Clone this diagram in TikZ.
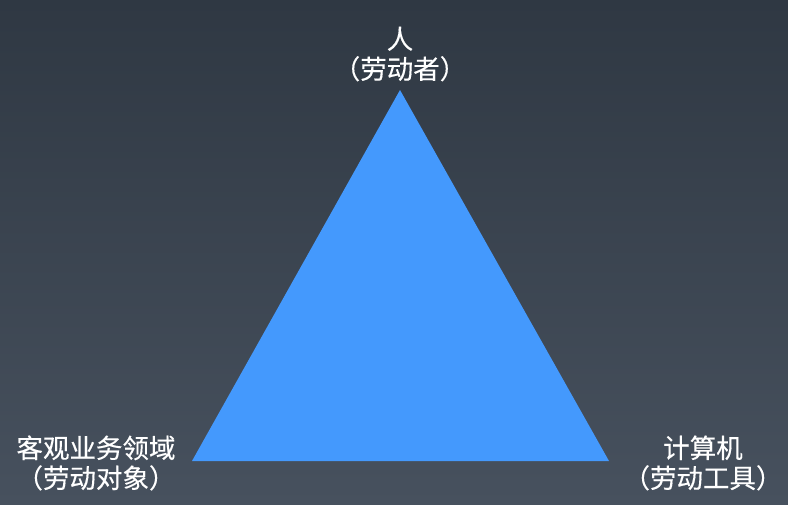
\documentclass[tikz,border=0pt]{standalone}
\usepackage{fontspec}
\newfontfamily\cjk{Noto Sans CJK SC}[FakeBold=0.3]
\definecolor{bgtop}{HTML}{2F3843}
\definecolor{bgbot}{HTML}{47515E}
\definecolor{tri}{HTML}{4499FD}
\begin{document}
\begin{tikzpicture}[x=1pt,y=-1pt,
  lbl/.style={text=white,font=\cjk\fontsize{26.5}{30}\selectfont,align=center,inner sep=0pt}]
\shade[top color=bgtop,bottom color=bgbot] (0,0) rectangle (788,505);
\useasboundingbox (0,0) rectangle (788,505);
\coordinate (A) at (400,90);
\coordinate (B) at (192,461);
\coordinate (C) at (609,461);
\fill[tri] (A) -- (B) -- (C) -- cycle;
\node[lbl] (top) at (400,54) {人\\（劳动者）};
\node[lbl] (left) at (96,463) {客观业务领域\\（劳动对象）};
\node[lbl] (right) at (703,463) {计算机\\（劳动工具）};
\end{tikzpicture}
\end{document}
